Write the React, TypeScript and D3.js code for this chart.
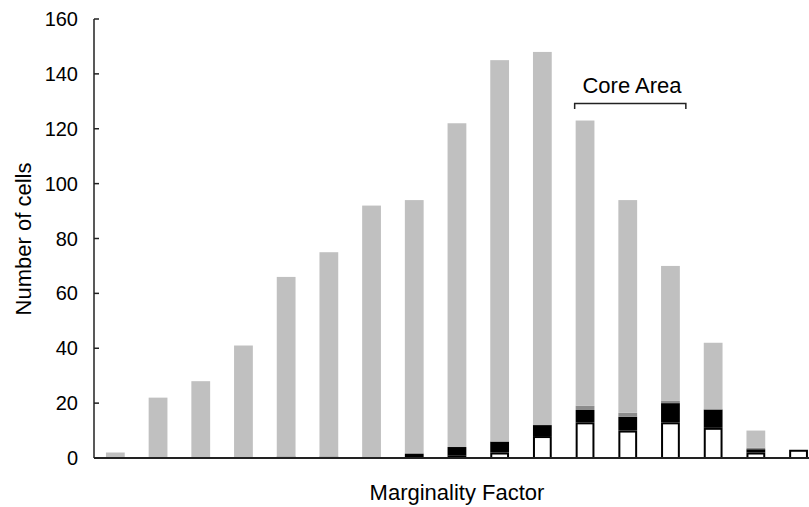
import React from "react";
import * as d3 from "d3";

const categories = ["1","2","3","4","5","6","7","8","9","10","11","12","13","14","15","16","17"];
const totals = [2, 22, 28, 41, 66, 75, 92, 94, 122, 145, 148, 123, 94, 70, 42, 10, 3];
const whiteVals = [0, 0, 0, 0, 0, 0, 0, 0, 1, 2, 8, 13, 10, 13, 11, 2, 3];
const blackVals = [0, 0, 0, 0, 0.5, 0.5, 0, 1.5, 3, 4, 4, 4.5, 5, 7, 6.7, 1.2, 0];
const darkVals = [0, 0, 0, 0, 0, 0, 0, 0.5, 0, 0, 0, 1.5, 1.5, 0.8, 0, 0.6, 0];
const yTicks = [0, 20, 40, 60, 80, 100, 120, 140, 160];

const W = 809, H = 507;
const left = 94, bottom = 458, top = 19;

export default function App() {
  const x = d3.scaleBand<string>().domain(categories).range([left, left + 42.7 * 17]).paddingInner(0.56).paddingOuter(0.28);
  const y = d3.scaleLinear().domain([0, 160]).range([bottom, top]);
  const bw = x.bandwidth();

  const segs: any[] = [];
  categories.forEach((c, i) => {
    const w = whiteVals[i], b = blackVals[i], d = darkVals[i];
    const g = totals[i] - w - b - d;
    let base = 0;
    const parts = [
      { v: w, kind: "white" },
      { v: b, kind: "black" },
      { v: d, kind: "dark" },
      { v: g, kind: "gray" },
    ];
    parts.forEach((p, j) => {
      if (p.v > 0) {
        segs.push({ key: `${i}-${j}`, x: x(c)!, y0: y(base), y1: y(base + p.v), kind: p.kind });
      }
      base += p.v;
    });
  });

  const fills: Record<string, string> = { white: "#ffffff", black: "#000000", dark: "#8c8c8c", gray: "#c0c0c0" };

  const coreX0 = x("12")! - 1;
  const coreX1 = x("14")! + bw + 6;
  const coreY = 103.5;

  return (
    <svg width={W} height={H} style={{ position: "absolute", left: 0, top: 0, fontFamily: "Liberation Sans, Arial, sans-serif" }}>
      <rect width={W} height={H} fill="#fff" />
      {segs.filter(s => s.kind !== "white").map(s => (
        <rect key={s.key} x={s.x} y={s.y1} width={bw} height={s.y0 - s.y1} fill={fills[s.kind]} />
      ))}
      {segs.filter(s => s.kind === "white").map(s => (
        <rect key={s.key} x={s.x + 1} y={s.y1 + 1} width={bw - 2} height={s.y0 - s.y1 - 1} fill="#fff" stroke="#000" strokeWidth={2} />
      ))}
      <line x1={left} x2={W} y1={bottom} y2={bottom} stroke="#222" strokeWidth={2} />
      <line x1={left} x2={left} y1={top} y2={bottom} stroke="#222" strokeWidth={1.5} />
      {yTicks.map(t => (
        <g key={t}>
          <line x1={left} x2={left + 5} y1={y(t)} y2={y(t)} stroke="#222" strokeWidth={1.5} />
          <text x={78} y={y(t)} dy="0.35em" textAnchor="end" fontSize={20} fill="#000">{t}</text>
        </g>
      ))}
      <text x={457} y={500} textAnchor="middle" fontSize={22} fill="#000">Marginality Factor</text>
      <text transform={`translate(31,239) rotate(-90)`} textAnchor="middle" fontSize={22} fill="#000">Number of cells</text>
      <path d={`M${coreX0},${coreY + 5.5}V${coreY}H${coreX1}V${coreY + 5.5}`} fill="none" stroke="#222" strokeWidth={1.5} />
      <text x={632} y={93} textAnchor="middle" fontSize={22} fill="#000">Core Area</text>
    </svg>
  );
}
